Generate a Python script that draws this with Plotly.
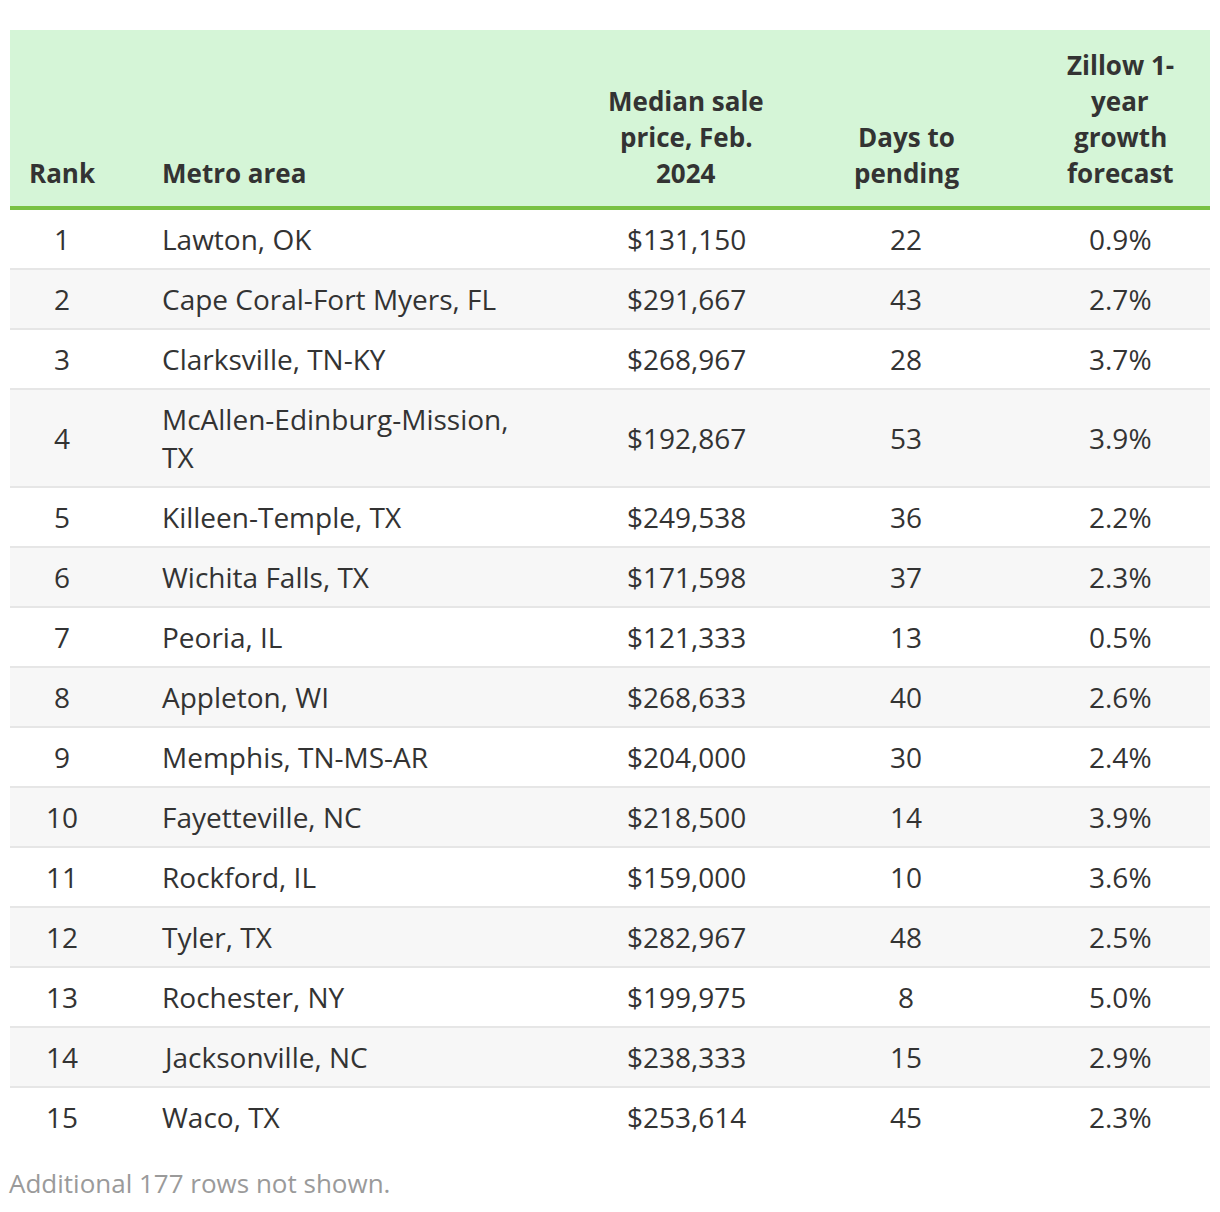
import plotly.graph_objects as go

# ---- data ----
headers = ["Rank", "Metro area", "Median sale<br>price, Feb.<br>2024", "Days to<br>pending",
           "Zillow 1-<br>year<br>growth<br>forecast"]
ranks = [1, 2, 3, 4, 5, 6, 7, 8, 9, 10, 11, 12, 13, 14, 15]
metros = ["Lawton, OK", "Cape Coral-Fort Myers, FL", "Clarksville, TN-KY",
          "McAllen-Edinburg-Mission,<br>TX", "Killeen-Temple, TX", "Wichita Falls, TX",
          "Peoria, IL", "Appleton, WI", "Memphis, TN-MS-AR", "Fayetteville, NC",
          "Rockford, IL", "Tyler, TX", "Rochester, NY", "Jacksonville, NC", "Waco, TX"]
prices = [131150, 291667, 268967, 192867, 249538, 171598, 121333, 268633, 204000,
          218500, 159000, 282967, 199975, 238333, 253614]
days = [22, 43, 28, 53, 36, 37, 13, 40, 30, 14, 10, 48, 8, 15, 45]
forecast = [0.9, 2.7, 3.7, 3.9, 2.2, 2.3, 0.5, 2.6, 2.4, 3.9, 3.6, 2.5, 5.0, 2.9, 2.3]
footnote = "Additional 177 rows not shown."

# ---- layout / style ----
W, H = 1220, 1212
PAGE_OFF = 8  # page body margin
TL, TR = 10, 1210
HEAD_TOP, HEAD_BOT = 30, 206
GREEN_W = 4
ROW_H = 60
LINE_H_BODY = 38
LINE_H_HEAD = 36
SEP_W = 2
col_x = [62, 160, 686, 906, 1120]
col_anchor = ["center", "left", "center", "center", "center"]
TXT = "#333333"
FONT = "Open Sans"
BODY_SIZE = 28
HEAD_SIZE = 26

columns = [
    [str(r) for r in ranks],
    metros,
    [f"${p:,}" for p in prices],
    [str(d) for d in days],
    [f"{f:.1f}%" for f in forecast],
]

fig = go.Figure()
shapes = []
annotations = []

# header band
shapes.append(dict(type="rect", xref="x", yref="y", x0=TL, x1=TR, y0=HEAD_TOP, y1=HEAD_BOT,
                   fillcolor="#d5f5d7", line_width=0, layer="below"))
header_last_center = HEAD_BOT - 33
for ci, h in enumerate(headers):
    lines = h.split("<br>")
    n = len(lines)
    for li, ln in enumerate(lines):
        y = header_last_center - (n - 1 - li) * LINE_H_HEAD
        annotations.append(dict(x=col_x[ci], y=y, xref="x", yref="y", text=f"<b>{ln}</b>",
                                showarrow=False, xanchor=col_anchor[ci], yanchor="middle",
                                font=dict(family=FONT, size=HEAD_SIZE, color=TXT)))

# body rows
y = HEAD_BOT + GREEN_W
nrows = len(ranks)
for ri in range(nrows):
    nlines = max(len(col[ri].split("<br>")) for col in columns)
    rh = ROW_H + (nlines - 1) * LINE_H_BODY
    if ri % 2 == 1:
        shapes.append(dict(type="rect", xref="x", yref="y", x0=TL, x1=TR, y0=y, y1=y + rh - SEP_W,
                           fillcolor="#f7f7f7", line_width=0, layer="below"))
    if ri < nrows - 1:
        shapes.append(dict(type="rect", xref="x", yref="y", x0=TL, x1=TR, y0=y + rh - SEP_W, y1=y + rh,
                           fillcolor="#e6e6e6", line_width=0, layer="below"))
    center = y + (rh - SEP_W) / 2
    for ci, col in enumerate(columns):
        lines = col[ri].split("<br>")
        n = len(lines)
        for li, ln in enumerate(lines):
            ly = center + (li - (n - 1) / 2) * LINE_H_BODY
            annotations.append(dict(x=col_x[ci], y=ly, xref="x", yref="y", text=ln,
                                    showarrow=False, xanchor=col_anchor[ci], yanchor="middle",
                                    font=dict(family=FONT, size=BODY_SIZE, color=TXT)))
    y += rh

# green header rule
shapes.append(dict(type="rect", xref="x", yref="y", x0=TL, x1=TR, y0=HEAD_BOT, y1=HEAD_BOT + GREEN_W,
                   fillcolor="#79c143", line_width=0))

annotations.append(dict(x=TL, y=y + 35, xref="x", yref="y", xshift=-3, text=footnote, showarrow=False,
                        xanchor="left", yanchor="middle",
                        font=dict(family=FONT, size=26, color="#9a9a9a")))

fig.update_layout(
    width=W, height=H, margin=dict(l=0, r=0, t=0, b=0),
    paper_bgcolor="white", plot_bgcolor="white",
    xaxis=dict(range=[PAGE_OFF, W + PAGE_OFF], visible=False, fixedrange=True),
    yaxis=dict(range=[H + PAGE_OFF, PAGE_OFF], visible=False, fixedrange=True),
    shapes=shapes, annotations=annotations, showlegend=False,
)
fig.write_html("out.html")
